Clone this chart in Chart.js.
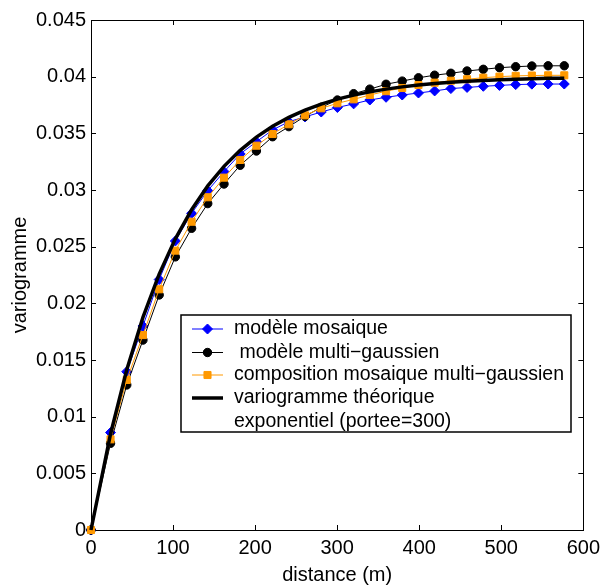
<!DOCTYPE html>
<html lang="fr">
<head>
<meta charset="UTF-8">
<title>variogramme</title>
<script src="https://cdn.jsdelivr.net/npm/chart.js"></script>
<style>
    * { margin: 0; padding: 0; box-sizing: border-box; }
    body { background: #fff; width: 606px; height: 587px; overflow: hidden; }
    #chart { display: block; }
</style>
</head>
<body>
<canvas id="chart" width="606" height="587"></canvas>
<script>
// distances des classes (m)
const distances = [0, 23.8, 43.6, 63.3, 83.1, 102.8, 122.6, 142.3, 162.1, 181.8, 201.6, 221.3, 241.1, 260.8, 280.6,
    300.3, 320.1, 339.8, 359.6, 379.3, 399.1, 418.8, 438.6, 458.3, 478.1, 497.8, 517.6, 537.3, 557.1, 576.8];

// variogrammes experimentaux
const mosaique = [0, 0.0086, 0.01397, 0.0180, 0.0221, 0.0255, 0.02794, 0.02994, 0.03162, 0.03318, 0.03426, 0.0353,
    0.03603, 0.03645, 0.03688, 0.03728, 0.0376, 0.03794, 0.03818, 0.03838, 0.03856, 0.03874, 0.03895, 0.03905,
    0.03915, 0.03923, 0.0393, 0.03934, 0.03935, 0.03935];
const multiGaussien = [0, 0.00765, 0.0128, 0.01676, 0.02074, 0.0241, 0.02662, 0.0288, 0.03053, 0.03218, 0.03344,
    0.0347, 0.03559, 0.0365, 0.0373, 0.03794, 0.0385, 0.0389, 0.03933, 0.03961, 0.0399, 0.04013, 0.0403, 0.0405,
    0.04065, 0.04079, 0.04088, 0.04094, 0.04096, 0.04096];
const composition = [0, 0.0080, 0.01324, 0.0172, 0.02124, 0.02465, 0.0272, 0.02936, 0.03109, 0.03265, 0.03391,
    0.03494, 0.0358, 0.03659, 0.03721, 0.03765, 0.038, 0.03838, 0.03872, 0.039, 0.03926, 0.03947, 0.03964, 0.03977,
    0.03991, 0.04, 0.04007, 0.0401, 0.04012, 0.04012];
// modele exponentiel (portee=300)
const theorique = [0, 0.00847, 0.01414, 0.01876, 0.02258, 0.02569, 0.02826, 0.03036, 0.03209, 0.0335, 0.03467,
    0.03562, 0.03641, 0.03705, 0.03758, 0.03802, 0.03837, 0.03866, 0.0389, 0.0391, 0.03926, 0.03939, 0.0395,
    0.03959, 0.03966, 0.03972, 0.03977, 0.03981, 0.03985, 0.03987];

const xTicks = [0, 100, 200, 300, 400, 500, 600];
const xTickLabels = ['0', '100', '200', '300', '400', '500', '600'];
const yTicks = [0, 0.005, 0.01, 0.015, 0.02, 0.025, 0.03, 0.035, 0.04, 0.045];
const yTickLabels = ['0', '0.005', '0.01', '0.015', '0.02', '0.025', '0.03', '0.035', '0.04', '0.045'];

const legendLabels = [
    ['modèle mosaique'],
    [' modèle multi\u2212gaussien'],
    ['composition mosaique multi\u2212gaussien'],
    ['variogramme théorique', 'exponentiel (portee=300)']
];

const FONT = '"Liberation Sans", Arial, Helvetica, sans-serif';
Chart.defaults.font.family = FONT;
Chart.defaults.font.size = 20;
Chart.defaults.color = '#000';

function pts(values) {
    return distances.map((d, i) => ({ x: d, y: values[i] }));
}

// cadre + graduations vers l'interieur (style matlab)
const cadre = {
    id: 'cadre',
    beforeDatasetsDraw(chart) {
        const { ctx, chartArea: a, scales: { x, y } } = chart;
        const L = 5;
        ctx.save();
        ctx.strokeStyle = '#000';
        ctx.lineWidth = 1;
        ctx.beginPath();
        for (const v of xTicks) {
            const px = Math.round(x.getPixelForValue(v)) + 0.5;
            ctx.moveTo(px, a.bottom); ctx.lineTo(px, a.bottom - L);
            ctx.moveTo(px, a.top); ctx.lineTo(px, a.top + L);
        }
        for (const v of yTicks) {
            const py = Math.round(y.getPixelForValue(v)) + 0.5;
            ctx.moveTo(a.left, py); ctx.lineTo(a.left + L, py);
            ctx.moveTo(a.right, py); ctx.lineTo(a.right - L, py);
        }
        ctx.stroke();
        ctx.strokeRect(Math.round(a.left) + 0.5, Math.round(a.top) + 0.5,
            Math.round(a.right - a.left), Math.round(a.bottom - a.top));
        ctx.restore();
    },
    afterDraw(chart) {
        // legende dans le graphique
        const ctx = chart.ctx;
        const box = { left: 181, top: 315, right: 571, bottom: 432 };
        const rows = [329, 352.5, 375, 398];
        ctx.save();
        ctx.fillStyle = '#fff';
        ctx.fillRect(box.left, box.top, box.right - box.left, box.bottom - box.top);
        ctx.strokeStyle = '#000';
        ctx.lineWidth = 1.5;
        ctx.strokeRect(box.left, box.top, box.right - box.left, box.bottom - box.top);
        ctx.font = '19.5px ' + FONT;
        ctx.textBaseline = 'middle';
        chart.data.datasets.forEach((ds, i) => {
            const yy = rows[i];
            ctx.strokeStyle = ds.borderColor;
            ctx.lineWidth = ds.borderWidth;
            ctx.beginPath();
            ctx.moveTo(192, yy); ctx.lineTo(223, yy);
            ctx.stroke();
            if (ds.pointRadius > 0) {
                ctx.fillStyle = ds.pointBackgroundColor;
                ctx.strokeStyle = ds.pointBorderColor;
                ctx.lineWidth = 1;
                Chart.helpers.drawPoint(ctx, { pointStyle: ds.pointStyle, radius: ds.pointRadius, rotation: 0, borderWidth: 1 }, 207.5, yy);
            }
            ctx.fillStyle = '#000';
            legendLabels[i].forEach((t, k) => ctx.fillText(t, 234, yy + k * 24));
        });
        ctx.restore();
    }
};

new Chart(document.getElementById('chart'), {
    type: 'line',
    data: {
        datasets: [
            {
                data: pts(mosaique), borderColor: '#0000ff', borderWidth: 1,
                pointStyle: 'rectRot', pointRadius: 5, pointBackgroundColor: '#0000ff', pointBorderColor: '#0000ff',
                order: 3
            },
            {
                data: pts(multiGaussien), borderColor: '#000000', borderWidth: 1,
                pointStyle: 'circle', pointRadius: 4.2, pointBackgroundColor: '#000000', pointBorderColor: '#000000',
                order: 2
            },
            {
                data: pts(composition), borderColor: '#ff9900', borderWidth: 1,
                pointStyle: 'rect', pointRadius: 5, pointBackgroundColor: '#ff9900', pointBorderColor: '#ff9900',
                order: 1
            },
            {
                data: pts(theorique), borderColor: '#000000', borderWidth: 3.5,
                pointRadius: 0, order: 0
            }
        ]
    },
    options: {
        responsive: false,
        animation: false,
        events: [],
        clip: false,
        layout: { padding: { top: 20, right: 17, left: 0, bottom: 0 } },
        elements: { line: { tension: 0 } },
        plugins: { legend: { display: false }, tooltip: { enabled: false } },
        scales: {
            x: {
                type: 'linear', min: 0, max: 600,
                grid: { display: false, drawTicks: false },
                border: { display: false },
                afterBuildTicks: s => { s.ticks = xTicks.map(v => ({ value: v })); },
                afterFit: s => { s.height = 57; },
                ticks: { padding: 6, maxRotation: 0, callback: (v, i) => xTickLabels[i] },
                title: { display: true, text: 'distance (m)', font: { size: 20 }, padding: { top: 0, bottom: 0 } }
            },
            y: {
                type: 'linear', min: 0, max: 0.045,
                grid: { display: false, drawTicks: false },
                border: { display: false },
                afterBuildTicks: s => { s.ticks = yTicks.map(v => ({ value: v })); },
                afterFit: s => { s.width = 91; },
                ticks: { padding: 5, callback: (v, i) => yTickLabels[i] },
                title: { display: true, text: 'variogramme', font: { size: 20 }, padding: { top: 8, bottom: 0 } }
            }
        }
    },
    plugins: [cadre]
});
</script>
</body>
</html>
